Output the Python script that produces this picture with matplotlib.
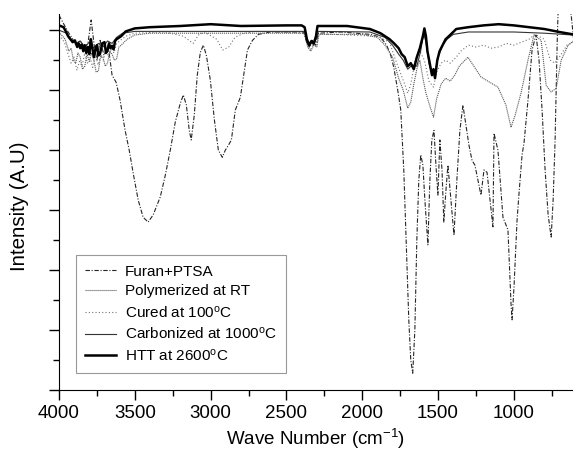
import matplotlib
matplotlib.use("Agg")
import matplotlib.pyplot as plt
from matplotlib.ticker import MultipleLocator, NullFormatter

plt.rcParams['font.family'] = ['Liberation Sans', 'DejaVu Sans']
plt.rcParams['mathtext.fontset'] = 'custom'
plt.rcParams['mathtext.rm'] = 'Liberation Sans'
plt.rcParams['mathtext.it'] = 'Liberation Sans'

# Furan+PTSA (wave number, intensity)
furan_x = [4000, 3974, 3940, 3914, 3888, 3861, 3835, 3808, 3788, 3768, 3749, 3729, 3703, 3676,
           3650, 3623, 3597, 3564, 3537, 3511, 3478, 3445, 3412, 3379, 3332, 3299, 3266, 3233,
           3200, 3180, 3160, 3141, 3128, 3108, 3088, 3068, 3048, 3028, 3002, 2975, 2949, 2923,
           2903, 2883, 2863, 2837, 2804, 2777, 2757, 2724, 2685, 2605, 2387, 2367, 2347, 2328,
           2308, 2288, 2143, 1944, 1878, 1839, 1812, 1792, 1766, 1746, 1726, 1713, 1693, 1680,
           1667, 1653, 1640, 1627, 1614, 1600, 1587, 1567, 1554, 1541, 1527, 1514, 1501, 1488,
           1474, 1462, 1448, 1435, 1415, 1395, 1376, 1356, 1336, 1316, 1296, 1276, 1257, 1237,
           1217, 1197, 1177, 1157, 1138, 1131, 1105, 1072, 1039, 1019, 1012, 999, 979, 966,
           946, 933, 907, 880, 854, 834, 814, 794, 774, 754, 741, 728, 714, 708, 690, 655,
           622, 602]
furan_y = [6.25, 6.13, 5.97, 5.87, 5.75, 5.83, 5.67, 5.80, 6.17, 5.75, 5.50, 5.83, 5.58, 5.75,
           5.25, 5.13, 4.83, 4.33, 4.00, 3.62, 3.17, 2.88, 2.80, 2.92, 3.22, 3.58, 4.00, 4.47,
           4.78, 4.92, 4.75, 4.33, 4.17, 4.58, 5.25, 5.63, 5.75, 5.58, 5.17, 4.50, 4.00, 3.88,
           4.00, 4.08, 4.17, 4.67, 4.88, 5.33, 5.67, 5.83, 5.93, 5.97, 5.97, 5.80, 5.73, 5.83,
           5.75, 5.95, 5.97, 5.93, 5.88, 5.75, 5.58, 5.38, 5.00, 4.67, 3.67, 2.67, 1.17, 0.50,
           0.28, 1.00, 2.50, 3.50, 3.92, 3.75, 3.17, 2.42, 3.50, 4.17, 4.33, 3.75, 3.25, 4.17,
           3.67, 2.80, 3.33, 3.75, 3.17, 2.58, 3.50, 4.33, 4.75, 4.42, 4.08, 3.83, 3.75, 3.50,
           3.25, 3.67, 3.63, 3.17, 2.72, 4.28, 4.00, 2.88, 2.67, 1.45, 1.17, 1.72, 2.83, 3.28,
           3.92, 4.12, 4.83, 5.67, 5.92, 5.50, 4.67, 3.67, 2.92, 2.55, 3.17, 4.17, 5.83, 6.33,
           6.60, 6.60, 6.25, 5.75]

# Polymerized at RT
poly_x = [4000, 3960, 3935, 3920, 3905, 3890, 3875, 3860, 3845, 3830, 3815, 3800, 3785, 3770,
          3755, 3740, 3725, 3710, 3695, 3680, 3665, 3650, 3635, 3620, 3605, 3590, 3550, 3500,
          3400, 2380, 2360, 2340, 2320, 2300, 2285, 2000, 1900, 1850, 1800, 1760, 1730, 1700,
          1680, 1660, 1640, 1620, 1600, 1580, 1550, 1530, 1510, 1480, 1450, 1420, 1390, 1360,
          1303, 1217, 1105, 1052, 1019, 992, 953, 907, 867, 820, 787, 754, 721, 688, 642, 602]
poly_y = [5.97, 5.85, 5.65, 5.70, 5.50, 5.45, 5.62, 5.55, 5.35, 5.40, 5.60, 5.48, 5.62, 5.50,
          5.30, 5.32, 5.58, 5.55, 5.40, 5.45, 5.65, 5.60, 5.50, 5.52, 5.72, 5.75, 5.85, 5.92,
          5.95, 5.95, 5.72, 5.65, 5.75, 5.72, 5.93, 5.93, 5.88, 5.75, 5.55, 5.20, 5.00, 4.70,
          4.80, 5.10, 5.35, 5.50, 5.20, 4.95, 4.70, 4.55, 4.85, 5.10, 5.20, 5.15, 5.25, 5.40,
          5.55, 5.22, 5.05, 4.75, 4.38, 4.58, 4.95, 5.50, 5.92, 5.83, 5.08, 4.97, 5.03, 5.50,
          5.75, 5.83]

# Cured at 100 C
cured_x = [4000, 3965, 3940, 3920, 3900, 3882, 3865, 3848, 3830, 3812, 3795, 3778, 3760, 3742,
           3725, 3708, 3690, 3672, 3655, 3637, 3620, 3600, 3560, 3500, 3300, 3180, 3115, 3080,
           3040, 2960, 2920, 2880, 2840, 2780, 2700, 2380, 2360, 2340, 2320, 2300, 2285, 1900,
           1820, 1780, 1750, 1720, 1700, 1680, 1650, 1620, 1590, 1560, 1530, 1510, 1480, 1450,
           1420, 1380, 1350, 1300, 1250, 1200, 1150, 1100, 1050, 1000, 950, 900, 860, 800,
           760, 730, 700, 650, 610]
cured_y = [5.92, 5.80, 5.60, 5.45, 5.55, 5.33, 5.48, 5.40, 5.62, 5.45, 5.55, 5.38, 5.60, 5.42,
           5.58, 5.50, 5.68, 5.55, 5.70, 5.62, 5.78, 5.82, 5.90, 5.95, 5.97, 5.90, 5.78, 5.92,
           5.97, 5.85, 5.67, 5.72, 5.88, 5.95, 5.98, 5.95, 5.75, 5.68, 5.78, 5.75, 5.94, 5.90,
           5.80, 5.50, 5.30, 5.10, 4.95, 5.10, 5.50, 5.65, 5.50, 5.15, 5.05, 5.30, 5.45, 5.50,
           5.45, 5.55, 5.65, 5.75, 5.72, 5.75, 5.70, 5.72, 5.78, 5.75, 5.80, 5.85, 5.93, 5.85,
           5.50, 5.45, 5.55, 5.75, 5.80]

# Carbonized at 1000 C
carb_x = [4000, 3950, 3920, 3890, 3860, 3830, 3800, 3770, 3740, 3710, 3680, 3650, 3620, 3580,
          3500, 2380, 2365, 2350, 2335, 2320, 2300, 2290, 1950, 1850, 1800, 1760, 1730, 1700,
          1670, 1640, 1615, 1595, 1580, 1560, 1540, 1520, 1500, 1470, 1440, 1400, 1300, 1000,
          800, 610]
carb_y = [6.00, 5.95, 5.85, 5.78, 5.82, 5.72, 5.80, 5.70, 5.78, 5.72, 5.82, 5.78, 5.88, 5.95,
          5.98, 5.98, 5.80, 5.72, 5.80, 5.75, 5.88, 5.98, 5.97, 5.88, 5.75, 5.60, 5.50, 5.35,
          5.42, 5.40, 5.65, 5.95, 5.80, 5.45, 5.25, 5.30, 5.55, 5.75, 5.85, 5.93, 5.97, 5.97,
          5.95, 5.92]

# HTT at 2600 C
htt_x = [4000, 3970, 3955, 3940, 3925, 3910, 3895, 3880, 3870, 3860, 3850, 3840, 3830, 3820,
         3810, 3800, 3790, 3780, 3770, 3760, 3750, 3740, 3730, 3715, 3700, 3690, 3680, 3670,
         3660, 3650, 3640, 3630, 3620, 3590, 3560, 3500, 3400, 3200, 3000, 2800, 2500, 2400,
         2380, 2365, 2350, 2335, 2320, 2305, 2295, 2100, 1950, 1880, 1820, 1790, 1760, 1740,
         1720, 1700, 1680, 1660, 1640, 1620, 1600, 1590, 1580, 1570, 1555, 1540, 1530, 1520,
         1505, 1490, 1470, 1450, 1420, 1380, 1300, 1200, 1100, 1000, 900, 800, 700, 610]
htt_y = [6.08, 6.05, 5.98, 5.90, 5.85, 5.80, 5.83, 5.72, 5.78, 5.70, 5.76, 5.65, 5.75, 5.62,
         5.72, 5.60, 5.85, 5.70, 5.55, 5.68, 5.75, 5.58, 5.60, 5.78, 5.80, 5.62, 5.66, 5.78,
         5.70, 5.74, 5.68, 5.82, 5.85, 5.90, 5.98, 6.03, 6.05, 6.07, 6.10, 6.07, 6.08, 6.08,
         6.05, 5.85, 5.75, 5.82, 5.78, 5.90, 6.07, 6.07, 6.02, 5.95, 5.85, 5.78, 5.70, 5.60,
         5.55, 5.40, 5.45, 5.35, 5.55, 5.70, 5.90, 6.03, 5.90, 5.65, 5.45, 5.25, 5.35, 5.20,
         5.50, 5.65, 5.75, 5.85, 5.92, 6.02, 6.05, 6.08, 6.10, 6.08, 6.05, 6.02, 5.97, 5.93]

labels = ['Furan+PTSA', 'Polymerized at RT', 'Cured at 100$^{o}$C',
          'Carbonized at 1000$^{o}$C', 'HTT at 2600$^{o}$C']
x_ticks = [4000, 3500, 3000, 2500, 2000, 1500, 1000]

fig = plt.figure(figsize=(5.73, 4.51), dpi=100)
ax = fig.add_axes([59 / 573, 61 / 451, 514 / 573, 376 / 451])

ax.plot(furan_x, furan_y, color='0.15', lw=0.8, linestyle=(0, (4, 1.5, 1, 1.5)), label=labels[0])
ax.plot(poly_x, poly_y, color='0.35', lw=0.8, linestyle=(0, (1, 0.8)), label=labels[1])
ax.plot(cured_x, cured_y, color='0.45', lw=0.8, linestyle=(0, (1, 2)), label=labels[2])
ax.plot(carb_x, carb_y, color='0.2', lw=0.8, label=labels[3])
ax.plot(htt_x, htt_y, color='0.0', lw=1.8, label=labels[4])

ax.set_xlim(4000, 610)
ax.set_ylim(0, 6.27)
ax.set_xticks(x_ticks)
ax.xaxis.set_minor_locator(MultipleLocator(250))
ax.yaxis.set_major_locator(MultipleLocator(1))
ax.yaxis.set_minor_locator(MultipleLocator(0.5))
ax.yaxis.set_major_formatter(NullFormatter())
ax.tick_params(axis='both', which='major', direction='out', length=7, width=1, labelsize=13.5)
ax.tick_params(axis='both', which='minor', direction='out', length=4, width=1)

ax.spines['top'].set_visible(False)
ax.spines['right'].set_visible(False)

ax.set_xlabel('Wave Number (cm$^{-1}$)', fontsize=13.5, labelpad=4)
ax.set_ylabel('Intensity (A.U)', fontsize=14.8)
ax.yaxis.set_label_coords(-30 / 514, 0.49)

leg = ax.legend(loc='lower left', bbox_to_anchor=(17 / 514, 17 / 376), fontsize=11,
                frameon=True, fancybox=False, handlelength=2.0, handletextpad=0.6,
                labelspacing=0.38, borderpad=0.6, borderaxespad=0)
leg.get_frame().set_edgecolor('0.5')
leg.get_frame().set_linewidth(0.8)

fig.savefig('out.png', dpi=100)
